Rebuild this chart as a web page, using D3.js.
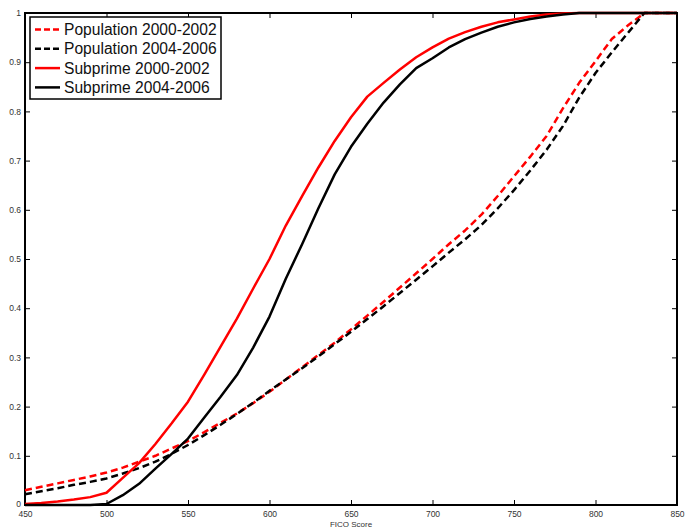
<!DOCTYPE html>
<html>
<head>
<meta charset="utf-8">
<script src="https://cdn.jsdelivr.net/npm/d3@7"></script>
<style>
  body { margin: 0; background: #fff; }
  svg { font-family: "Liberation Sans", Arial, sans-serif; }
</style>
</head>
<body>
<div id="chart"></div>
<script>
// FICO score grid (every 10 points)
var fico = d3.range(450, 851, 10);

// Cumulative shares
var popEarly = [0.030, 0.037, 0.044, 0.051, 0.058, 0.066, 0.076, 0.088, 0.100, 0.115,
  0.130, 0.148, 0.167, 0.186, 0.207, 0.230, 0.255, 0.280, 0.305, 0.330,
  0.357, 0.385, 0.413, 0.442, 0.471, 0.500, 0.530, 0.558, 0.590, 0.628,
  0.668, 0.708, 0.750, 0.806, 0.858, 0.902, 0.947, 0.975, 1.000, 1.000, 1.000];
var popLate = [0.022, 0.028, 0.034, 0.041, 0.047, 0.054, 0.064, 0.075, 0.088, 0.104,
  0.122, 0.142, 0.163, 0.185, 0.208, 0.232, 0.255, 0.278, 0.302, 0.327,
  0.352, 0.378, 0.404, 0.431, 0.458, 0.485, 0.513, 0.540, 0.569, 0.603,
  0.640, 0.680, 0.722, 0.770, 0.828, 0.878, 0.920, 0.960, 1.000, 1.000, 1.000];
var subEarly = [0.002, 0.004, 0.007, 0.011, 0.016, 0.025, 0.055, 0.085, 0.124, 0.166,
  0.210, 0.265, 0.322, 0.379, 0.440, 0.500, 0.568, 0.628, 0.686, 0.740,
  0.788, 0.830, 0.858, 0.885, 0.910, 0.930, 0.948, 0.961, 0.972, 0.981,
  0.987, 0.993, 0.997, 0.999, 1.000, 1.000, 1.000, 1.000, 1.000, 1.000, 1.000];
var subLate = [0.000, 0.000, 0.000, 0.000, 0.000, 0.002, 0.020, 0.043, 0.074, 0.104,
  0.135, 0.178, 0.220, 0.264, 0.320, 0.383, 0.460, 0.530, 0.603, 0.672,
  0.728, 0.775, 0.818, 0.855, 0.888, 0.908, 0.930, 0.947, 0.960, 0.972,
  0.981, 0.988, 0.993, 0.997, 1.000, 1.000, 1.000, 1.000, 1.000, 1.000, 1.000];

var seriesNames = ["Population 2000-2002", "Population 2004-2006", "Subprime 2000-2002", "Subprime 2004-2006"];
var seriesValues = [popEarly, popLate, subEarly, subLate];
var seriesColors = ["#ff0000", "#000000", "#ff0000", "#000000"];
var seriesDashed = [true, true, false, false];

var xTicks = d3.range(450, 851, 50);
var yTicks = [0, 0.1, 0.2, 0.3, 0.4, 0.5, 0.6, 0.7, 0.8, 0.9, 1];

var svgWidth = 685, svgHeight = 529;
var margin = { top: 13, right: 8, bottom: 24, left: 25 };
var width = svgWidth - margin.left - margin.right;
var height = svgHeight - margin.top - margin.bottom;

var svg = d3.select("#chart").append("svg")
  .attr("width", svgWidth)
  .attr("height", svgHeight);

var chartGroup = svg.append("g")
  .attr("transform", `translate(${margin.left}, ${margin.top})`);

var xScale = d3.scaleLinear().domain([450, 850]).range([0, width]);
var yScale = d3.scaleLinear().domain([0, 1]).range([height, 0]);

// Axes with inward ticks on all four sides
function styleAxis(g) {
  g.select(".domain").remove();
  g.selectAll(".tick line").attr("stroke", "#000").attr("stroke-width", 1);
  g.selectAll(".tick text").attr("fill", "#333").style("font-size", "8.5px");
}

chartGroup.append("g")
  .attr("transform", `translate(0, ${height})`)
  .call(d3.axisBottom(xScale).tickValues(xTicks).tickSize(-5).tickPadding(6).tickFormat(d3.format("d")))
  .call(styleAxis);

chartGroup.append("g")
  .call(d3.axisTop(xScale).tickValues(xTicks).tickSize(-5).tickFormat(""))
  .call(styleAxis);

var yAxis = chartGroup.append("g")
  .call(d3.axisLeft(yScale).tickValues(yTicks).tickSize(-5).tickPadding(4).tickFormat(d3.format("")))
  .call(styleAxis);
// lift the "0" label a touch so it clears the 450 label
yAxis.selectAll(".tick text").filter(d => d === 0).attr("dy", "0.15em");

chartGroup.append("g")
  .attr("transform", `translate(${width}, 0)`)
  .call(d3.axisRight(yScale).tickValues(yTicks).tickSize(-5).tickFormat(""))
  .call(styleAxis);

// Frame
chartGroup.append("rect")
  .attr("width", width)
  .attr("height", height)
  .attr("fill", "none")
  .attr("stroke", "#000")
  .attr("stroke-width", 2);

// Lines
var line = d3.line()
  .x((d, i) => xScale(fico[i]))
  .y(d => yScale(d));

seriesValues.forEach(function(vals, k) {
  chartGroup.append("path")
    .datum(vals)
    .attr("d", line)
    .attr("fill", "none")
    .attr("stroke", seriesColors[k])
    .attr("stroke-width", 2.5)
    .attr("stroke-dasharray", seriesDashed[k] ? "7,4" : null)
    .attr("stroke-linejoin", "round");
});

// X label
chartGroup.append("text")
  .attr("x", width / 2)
  .attr("y", height + 22)
  .attr("text-anchor", "middle")
  .attr("fill", "#333")
  .style("font-size", "8px")
  .text("FICO Score");

// Legend
var legend = chartGroup.append("g").attr("transform", "translate(5, 4)");
legend.append("rect")
  .attr("width", 191)
  .attr("height", 82)
  .attr("fill", "#fff")
  .attr("stroke", "#000")
  .attr("stroke-width", 1.5);

seriesNames.forEach(function(name, k) {
  var row = legend.append("g").attr("transform", `translate(0, ${12.5 + k * 19.3})`);
  row.append("line")
    .attr("x1", 5).attr("x2", 30)
    .attr("y1", 0).attr("y2", 0)
    .attr("stroke", seriesColors[k])
    .attr("stroke-width", 2.5)
    .attr("stroke-dasharray", seriesDashed[k] ? "6,3" : null);
  row.append("text")
    .attr("x", 34)
    .attr("y", 5.5)
    .attr("fill", "#111")
    .style("font-size", "15.6px")
    .text(name);
});
</script>
</body>
</html>
